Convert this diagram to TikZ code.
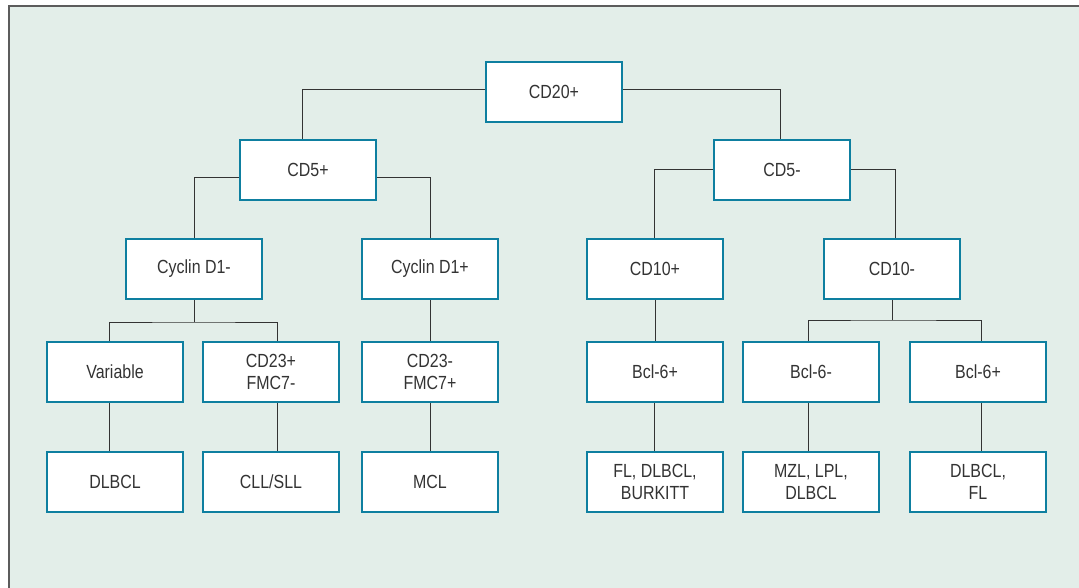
\documentclass[tikz,border=0pt]{standalone}
\usepackage{fontspec}
\setmainfont[FakeStretch=0.84]{Liberation Sans}
\definecolor{bg}{HTML}{E3EEE9}
\definecolor{teal}{HTML}{0E7FA0}
\definecolor{ink}{HTML}{333333}
\pgfdeclarelayer{bottom}
\pgfdeclarelayer{lines}
\pgfsetlayers{bottom,lines,main}
\begin{document}
\begin{tikzpicture}[x=1pt,y=-1pt,
  box/.style={draw=teal,line width=2.6pt,fill=white,minimum width=136pt,minimum height=60pt,
    inner sep=0pt,align=center,text=ink,font=\fontsize{19}{21.5}\selectfont},
  conn/.style={draw=ink,line width=1pt}]
\useasboundingbox (0,0) rectangle (1079,588);
\begin{pgfonlayer}{bottom}
\fill[white] (0,0) rectangle (1079,588);
\filldraw[fill=bg,draw=ink!80,line width=1.5pt] (9,6) rectangle (1090,600);
\end{pgfonlayer}
% level 1
\node[box] (cd20) at (554,92) {CD20+};
% level 2
\node[box] (cd5p) at (308,170) {CD5+};
\node[box] (cd5m) at (782,170) {CD5-};
% level 3
\node[box] (cycm) at (194,269) {Cyclin D1-};
\node[box] (cycp) at (430,269) {Cyclin D1+};
\node[box] (cd10p) at (655,269) {CD10+};
\node[box] (cd10m) at (892,269) {CD10-};
% level 4
\node[box] (var) at (115,372) {Variable};
\node[box] (cd23p) at (271,372) {CD23+\\FMC7-};
\node[box] (cd23m) at (430,372) {CD23-\\FMC7+};
\node[box] (bclpa) at (655,372) {Bcl-6+};
\node[box] (bclm) at (811,372) {Bcl-6-};
\node[box] (bclpb) at (978,372) {Bcl-6+};
% level 5
\node[box] (dlbcl) at (115,482) {DLBCL};
\node[box] (cll) at (271,482) {CLL/SLL};
\node[box] (mcl) at (430,482) {MCL};
\node[box] (fl) at (655,482) {FL, DLBCL,\\BURKITT};
\node[box] (mzl) at (811,482) {MZL, LPL,\\DLBCL};
\node[box] (dlfl) at (978,482) {DLBCL,\\FL};
% connectors
\begin{pgfonlayer}{lines}
\draw[conn] ([yshift=2pt]cd20.center) -| ([xshift=-6pt]cd5p.center);
\draw[conn] ([yshift=2pt]cd20.center) -| ([xshift=-2pt]cd5m.center);
\draw[conn] ([yshift=-8pt]cd5p.center) -| (cycm.center);
\draw[conn] ([yshift=-8pt]cd5p.center) -| (cycp.center);
\draw[conn] (cd5m.center) -| ([xshift=-1pt]cd10p.center);
\draw[conn] (cd5m.center) -| ([xshift=3pt]cd10m.center);
\coordinate (s1) at (194,322);
\coordinate (s2) at (892,320);
\draw[conn] (cycm.center) -- (s1);
\draw[conn] ([xshift=-6pt]var.center) |- (s1) -| ([xshift=6pt]cd23p.center);
\draw[conn] (cycp.center) -- (cd23m.center);
\draw[conn] (cd10p.center) -- (bclpa.center);
\draw[conn] (cd10m.center) -- (s2);
\draw[conn] ([xshift=-3pt]bclm.center) |- (s2) -| ([xshift=3pt]bclpb.center);
\draw[conn] ([xshift=-6pt]var.center) -- ([xshift=-6pt]dlbcl.center);
\draw[conn] ([xshift=6pt]cd23p.center) -- ([xshift=6pt]cll.center);
\draw[conn] (cd23m.center) -- (mcl.center);
\draw[conn] ([xshift=-1pt]bclpa.center) -- ([xshift=-1pt]fl.center);
\draw[conn] ([xshift=-3pt]bclm.center) -- ([xshift=-3pt]mzl.center);
\draw[conn] ([xshift=3pt]bclpb.center) -- ([xshift=3pt]dlfl.center);
\end{pgfonlayer}
\end{tikzpicture}
\end{document}
